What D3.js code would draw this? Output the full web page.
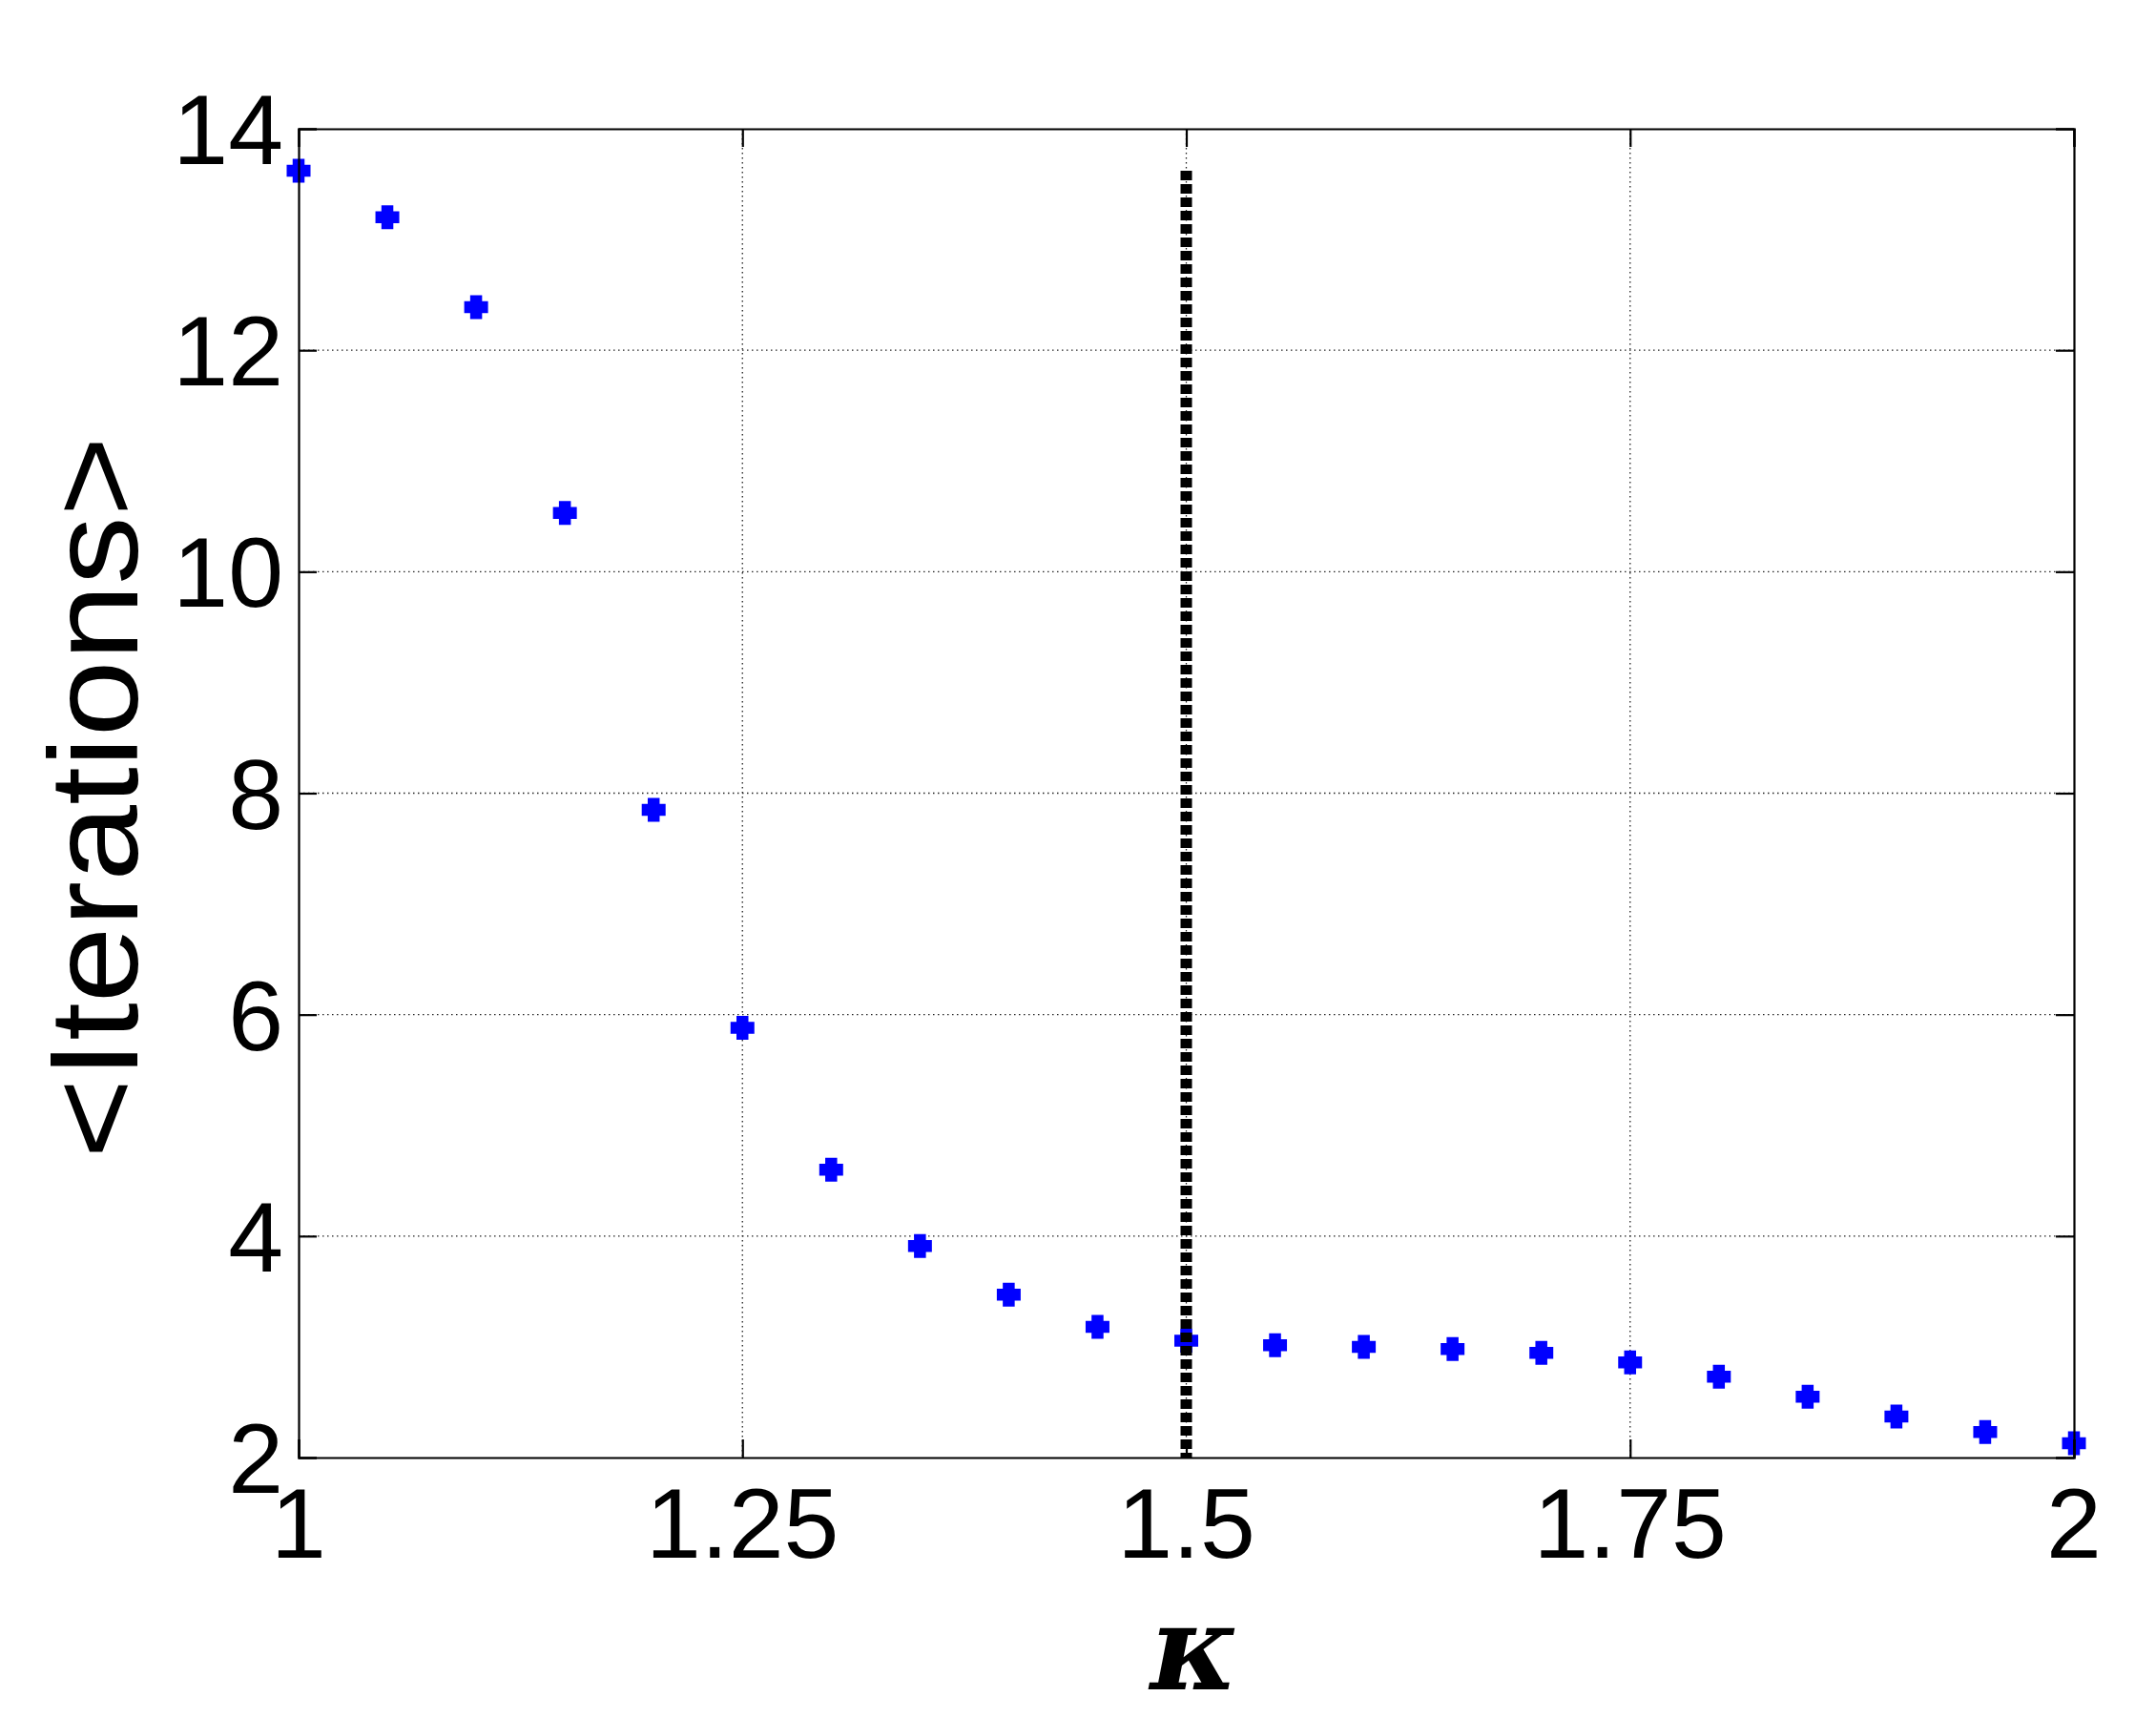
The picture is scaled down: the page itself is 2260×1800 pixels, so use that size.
<!DOCTYPE html>
<html>
<head>
  <meta charset="utf-8">
  <title>Iterations vs kappa</title>
  <script src="https://d3js.org/d3.v7.min.js"></script>
  <style>
    body { margin: 0; background: #fff; }
    svg { display: block; background: #fff; }
    .tick-label { font-family: Arial, "Liberation Sans", sans-serif; font-size: 104px; fill: #000; }
    .grid line { stroke: #222; stroke-width: 1.3; stroke-dasharray: 1.5,3.5; }
  </style>
</head>
<body>
  <svg id="chart" width="2260" height="1800"></svg>
  <script>
    // data
    const kappa = [1.00, 1.05, 1.10, 1.15, 1.20, 1.25, 1.30, 1.35, 1.40, 1.45, 1.50,
                   1.55, 1.60, 1.65, 1.70, 1.75, 1.80, 1.85, 1.90, 1.95, 2.00];
    const iterations = [13.62, 13.20, 12.39, 10.53, 7.85, 5.88, 4.60, 3.91, 3.47, 3.18, 3.055,
                        3.015, 3.00, 2.98, 2.945, 2.86, 2.73, 2.55, 2.37, 2.23, 2.13];
    const xTicks = [1, 1.25, 1.5, 1.75, 2];
    const xTickLabels = ["1", "1.25", "1.5", "1.75", "2"];
    const yTicks = [2, 4, 6, 8, 10, 12, 14];
    const yTickLabels = ["2", "4", "6", "8", "10", "12", "14"];
    const critKappa = 1.5;
    const critRange = [2, 13.62];

    const mLeft = 313, mRight = 2174, mTop = 135, mBottom = 1528;
    const svg = d3.select("#chart");

    const x = d3.scaleLinear().domain([1, 2]).range([mLeft, mRight]);
    const y = d3.scaleLinear().domain([2, 14]).range([mBottom, mTop]);

    // dotted grid
    const grid = svg.append("g").attr("class", "grid");
    grid.selectAll("line.v").data(xTicks.slice(1, -1)).enter().append("line")
      .attr("x1", d => x(d)).attr("x2", d => x(d))
      .attr("y1", mTop).attr("y2", mBottom);
    grid.selectAll("line.h").data(yTicks.slice(1, -1)).enter().append("line")
      .attr("x1", mLeft).attr("x2", mRight)
      .attr("y1", d => y(d)).attr("y2", d => y(d));

    // plus markers
    const s = 12.5, h = 6.25;
    const plus = `M${-h},${-s}H${h}V${-h}H${s}V${h}H${h}V${s}H${-h}V${h}H${-s}V${-h}H${-h}Z`;
    svg.append("g").selectAll("path").data(kappa).enter().append("path")
      .attr("d", plus)
      .attr("transform", (d, i) => `translate(${x(d)},${y(iterations[i])})`)
      .attr("fill", "#0000ff");

    // critical kappa dashed line
    svg.append("line")
      .attr("x1", x(critKappa)).attr("x2", x(critKappa))
      .attr("y1", y(critRange[1])).attr("y2", y(critRange[0]))
      .attr("stroke", "#000").attr("stroke-width", 12)
      .attr("stroke-dasharray", "10,4");

    // axes box with inward ticks on all sides
    const tl = 19;
    const axB = d3.axisBottom(x).tickValues(xTicks).tickSize(-tl).tickFormat("");
    const axT = d3.axisTop(x).tickValues(xTicks).tickSize(-tl).tickFormat("");
    const axL = d3.axisLeft(y).tickValues(yTicks).tickSize(-tl).tickFormat("");
    const axR = d3.axisRight(y).tickValues(yTicks).tickSize(-tl).tickFormat("");
    [[axB, `translate(0,${mBottom})`], [axT, `translate(0,${mTop})`],
     [axL, `translate(${mLeft},0)`], [axR, `translate(${mRight},0)`]].forEach(([ax, tr]) => {
      const g = svg.append("g").attr("transform", tr).call(ax);
      g.select(".domain").attr("stroke", "#000").attr("stroke-width", 2.2);
      g.selectAll(".tick line").attr("stroke", "#000").attr("stroke-width", 2.2);
    });

    // tick labels
    svg.append("g").selectAll("text").data(xTicks).enter().append("text")
      .attr("class", "tick-label")
      .attr("x", d => x(d)).attr("y", 1633)
      .attr("text-anchor", "middle")
      .text((d, i) => xTickLabels[i]);
    svg.append("g").selectAll("text").data(yTicks).enter().append("text")
      .attr("class", "tick-label")
      .attr("x", 297).attr("y", d => y(d) + 37)
      .attr("text-anchor", "end")
      .text((d, i) => yTickLabels[i]);

    // axis titles
    svg.append("text")
      .attr("x", 1252).attr("y", 1771)
      .attr("text-anchor", "middle")
      .style("font-family", "'DejaVu Serif', 'Liberation Serif', serif")
      .style("font-style", "italic")
      .style("font-weight", "bold")
      .style("font-size", "124px")
      .text("κ");
    svg.append("text")
      .attr("transform", "translate(144,836) rotate(-90)")
      .attr("text-anchor", "middle")
      .attr("textLength", 757)
      .attr("lengthAdjust", "spacingAndGlyphs")
      .style("font-family", "Arial, 'Liberation Sans', sans-serif")
      .style("font-size", "131px")
      .text("<Iterations>");
  </script>
</body>
</html>
